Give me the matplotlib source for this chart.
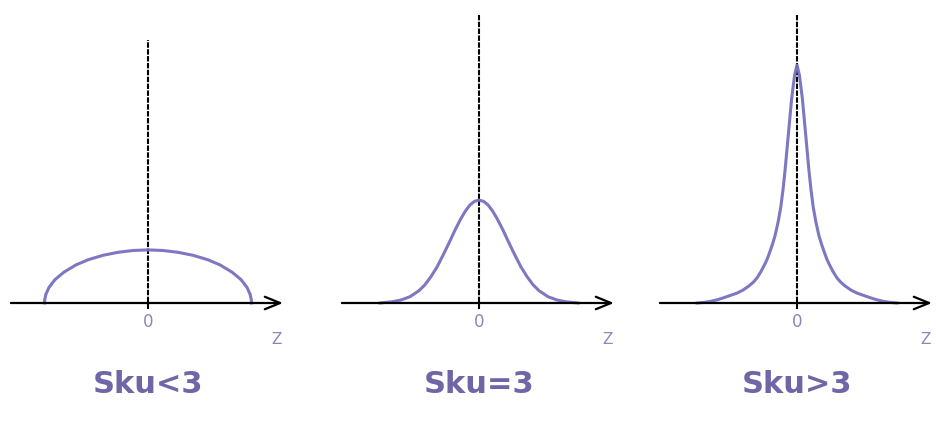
import matplotlib
matplotlib.use("Agg")
import matplotlib.pyplot as plt

# values (z in units of about 30 px, height in same units)
titles = ["Sku<3", "Sku=3", "Sku>3"]

flat_z = [-3.45, -3.44, -3.4, -3.3, -3.1, -2.8, -2.4, -2.0, -1.5, -1.0, -0.5, 0.0,
          0.5, 1.0, 1.5, 2.0, 2.4, 2.8, 3.1, 3.3, 3.4, 3.44, 3.45]
flat_h = [0.0, 0.13, 0.30, 0.52, 0.78, 1.03, 1.27, 1.44, 1.59, 1.69, 1.75, 1.77,
          1.75, 1.69, 1.59, 1.44, 1.27, 1.03, 0.78, 0.52, 0.30, 0.13, 0.0]

normal_z = [-3.3, -2.9, -2.6, -2.3, -2.0, -1.8, -1.6, -1.4, -1.2, -1.0, -0.8, -0.6,
            -0.45, -0.3, -0.15, 0.0, 0.15, 0.3, 0.45, 0.6, 0.8, 1.0, 1.2, 1.4,
            1.6, 1.8, 2.0, 2.3, 2.6, 2.9, 3.3]
normal_h = [0.0, 0.04, 0.10, 0.21, 0.41, 0.61, 0.88, 1.20, 1.59, 2.00, 2.43, 2.82,
            3.07, 3.27, 3.39, 3.43, 3.39, 3.27, 3.07, 2.82, 2.43, 2.00, 1.59, 1.20,
            0.88, 0.61, 0.41, 0.21, 0.10, 0.04, 0.0]

# right half of the peaked curve, mirrored below
peak_right_z = [0.0, 0.08, 0.18, 0.29, 0.4, 0.47, 0.54, 0.63, 0.73, 0.82, 0.9, 1.0,
                1.07, 1.2, 1.33, 1.45, 1.6, 1.8, 2.0, 2.2, 2.4, 2.65, 2.9, 3.1, 3.33]
peak_right_h = [7.93, 7.6, 6.8, 5.6, 4.4, 3.75, 3.2, 2.7, 2.25, 1.95, 1.72, 1.45,
                1.3, 1.05, 0.84, 0.70, 0.57, 0.43, 0.33, 0.26, 0.19, 0.11, 0.05, 0.02, 0.0]
peak_z = [-v for v in peak_right_z[:0:-1]] + peak_right_z
peak_h = peak_right_h[:0:-1] + peak_right_h

curves = [(flat_z, flat_h), (normal_z, normal_h), (peak_z, peak_h)]
vline_top = [8.77, 9.6, 9.6]

curve_color = "#7770bf"
text_color = "#6e66a6"

W, H = 936, 424
fig = plt.figure(figsize=(W / 100, H / 100), dpi=100)

centers = [148, 479, 797]
for i in range(3):
    left = (centers[i] - 144) / W
    ax = fig.add_axes([left, 0, 288 / W, 1])
    ax.set_xlim(-4.8, 4.8)
    ax.set_ylim(-121 / 30, 303 / 30)
    ax.axis("off")

    # x axis with open arrow head
    ax.annotate("", xy=(4.5, 0), xytext=(-4.57, 0),
                arrowprops=dict(arrowstyle="->,head_length=1.1,head_width=0.45",
                                lw=1.6, color="black", mutation_scale=10,
                                shrinkA=0, shrinkB=0),
                annotation_clip=False)

    # vertical dashed line at z = 0
    ax.plot([0, 0], [-0.2, vline_top[i]], color="black", lw=1.5,
            linestyle=(0, (2.6, 0.7)), clip_on=False)

    z, h = curves[i]
    ax.plot(z, h, color=curve_color, lw=2.2, alpha=0.95, clip_on=False,
            solid_joinstyle="round")

    ax.text(0, -0.62, "0", ha="center", va="center", fontsize=12,
            color="#8a86b8")
    ax.text(4.3, -1.23, "Z", ha="center", va="center", fontsize=11,
            color="#8a86b8")
    ax.text(0, -2.73, titles[i], ha="center", va="center", fontsize=22,
            fontweight="bold", color=text_color)

fig.savefig("out.png", dpi=100)
